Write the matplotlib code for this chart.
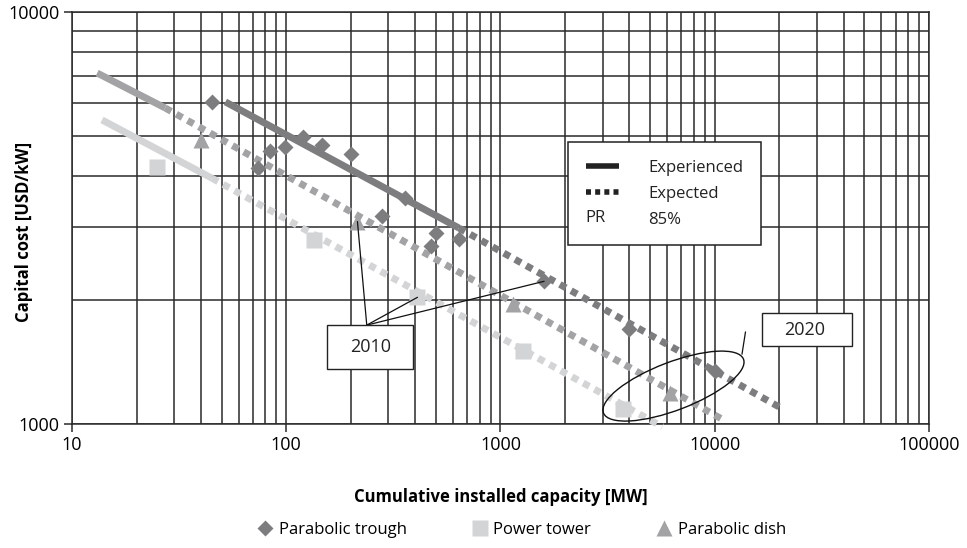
import matplotlib
matplotlib.use("Agg")
import matplotlib.pyplot as plt
from matplotlib.lines import Line2D
from matplotlib.patches import Ellipse, Rectangle
from matplotlib.legend_handler import HandlerBase
from matplotlib.text import Text
from matplotlib.transforms import ScaledTranslation
from matplotlib.ticker import FuncFormatter, NullFormatter

plt.rcParams['font.family'] = ['Open Sans', 'DejaVu Sans']

# observed points (MW, USD/kW)
trough_x = [45, 74, 84, 99, 120, 147, 200, 280, 360, 475, 500, 640, 1600, 4000, 10000]
trough_y = [6050, 4180, 4600, 4700, 4970, 4750, 4520, 3200, 3540, 2700, 2900, 2810, 2220, 1700, 1345]
tower_x = [25, 135, 410, 1270, 3750]
tower_y = [4200, 2800, 2030, 1500, 1090]
dish_x = [40, 215, 1150, 6200]
dish_y = [4900, 3100, 1960, 1190]

# experience curves: solid = experienced, dotted = expected
trough_exp_x = [52, 640]
trough_exp_y = [6050, 2990]
trough_fut_x = [640, 20000]
trough_fut_y = [2990, 1100]
tower_exp_x = [13.8, 45]
tower_exp_y = [5470, 3950]
tower_fut_x = [45, 5700]
tower_fut_y = [3950, 985]
dish_exp_x = [13.1, 27.2]
dish_exp_y = [7110, 5850]
dish_fut_x = [27.2, 11000]
dish_fut_y = [5850, 1023]

# 2010 points the callout refers to
y2010_x = [215, 410, 1600]
y2010_y = [3100, 2030, 2220]

c_trough = '#7d7d80'
c_dish = '#a3a3a6'
c_tower = '#d3d4d6'
grid_c = '#2a2a2a'
dots = (0, (1, 0.85))

fig = plt.figure(figsize=(9.67, 5.48), dpi=100)
ax = fig.add_axes([0.0745, 0.2263, 0.886, 0.7518])
ax.set_xscale('log')
ax.set_yscale('log')
ax.set_xlim(10, 100000)
ax.set_ylim(1000, 10000)

ax.grid(True, which='both', color=grid_c, lw=1.1)
ax.set_axisbelow(True)
for s in ax.spines.values():
    s.set_color(grid_c)
    s.set_linewidth(1.1)
ax.tick_params(which='minor', length=0)
ax.tick_params(which='major', length=6, width=1.1, color=grid_c, labelsize=13, pad=3)
fmt = FuncFormatter(lambda v, p: f'{v:.0f}')
ax.xaxis.set_major_formatter(fmt)
ax.yaxis.set_major_formatter(fmt)
ax.xaxis.set_minor_formatter(NullFormatter())
ax.yaxis.set_minor_formatter(NullFormatter())

# lines
ax.plot(dish_exp_x, dish_exp_y, color=c_dish, lw=5, solid_capstyle='butt', zorder=3)
ax.plot(dish_fut_x, dish_fut_y, color=c_dish, lw=5, ls=dots, zorder=3)
ax.plot(tower_exp_x, tower_exp_y, color=c_tower, lw=5, solid_capstyle='butt', zorder=3)
ax.plot(tower_fut_x, tower_fut_y, color=c_tower, lw=5, ls=dots, zorder=3, clip_on=False)
ax.plot(trough_exp_x, trough_exp_y, color=c_trough, lw=5, solid_capstyle='butt', zorder=3)
ax.plot(trough_fut_x, trough_fut_y, color=c_trough, lw=5, ls=dots, zorder=3)

# markers
ax.plot(trough_x, trough_y, 'D', color=c_trough, ms=8, mec='none', zorder=4)
ax.plot(tower_x, tower_y, 's', color=c_tower, ms=11, mec='none', zorder=4)
ax.plot(dish_x, dish_y, '^', color=c_dish, ms=12, mec='none', zorder=4)

ax.set_xlabel('Cumulative installed capacity [MW]', fontsize=12, fontweight='bold', labelpad=24)
ax.set_ylabel('Capital cost [USD/kW]', fontsize=12, fontweight='bold')
ax.yaxis.set_label_coords(-0.045, 0.466)


# inner legend with a text-only "PR" row
class TextHandler(HandlerBase):
    def create_artists(self, legend, orig_handle, xdescent, ydescent, width, height, fontsize, trans):
        t = Text(-xdescent, height / 2 - ydescent, orig_handle, va='center', ha='left',
                 fontsize=fontsize, color='#222222', transform=trans)
        return [t]


h_exp = Line2D([], [], color='#222222', lw=4, solid_capstyle='butt')
h_fut = Line2D([], [], color='#222222', lw=4, ls=(0, (0.9, 0.75)))
leg = ax.legend([h_exp, h_fut, 'PR'], ['Experienced', 'Expected', '85%'],
                handler_map={str: TextHandler()}, loc='upper left',
                bbox_to_anchor=(0.579, 0.684), fontsize=12, frameon=True, fancybox=False,
                edgecolor='#222222', framealpha=1, handlelength=2.0, handletextpad=1.75,
                labelspacing=0.6, borderpad=1.05, borderaxespad=0)
leg.get_frame().set_linewidth(1.1)
for t in leg.get_texts():
    t.set_color('#222222')

# 2010 callout
for px, py in zip(y2010_x, y2010_y):
    ax.annotate('', xy=(px, py), xycoords='data', xytext=(0.344, 0.240), textcoords='axes fraction',
                arrowprops=dict(arrowstyle='-', lw=0.9, color='#111111', shrinkA=0, shrinkB=0), zorder=5)
ax.add_patch(Rectangle((0.2975, 0.1335), 0.1005, 0.1065, transform=ax.transAxes,
                       facecolor='white', edgecolor='#222222', lw=1.0, zorder=6))
ax.text(0.348, 0.187, '2010', transform=ax.transAxes, ha='center', va='center', fontsize=13,
        color='#222222', zorder=7)

# 2020 callout
ax.add_patch(Rectangle((0.805, 0.189), 0.105, 0.080, transform=ax.transAxes,
                       facecolor='white', edgecolor='#222222', lw=1.0, zorder=6))
ax.text(0.855, 0.229, '2020', transform=ax.transAxes, ha='center', va='center', fontsize=13,
        color='#222222', zorder=7)
ax.plot([0.786, 0.782], [0.223, 0.170], transform=ax.transAxes, color='#111111', lw=0.9, zorder=5)
ell_tr = fig.dpi_scale_trans + ScaledTranslation(0.702, 0.092, ax.transAxes)
ax.add_patch(Ellipse((0, 0), 1.50, 0.48, angle=21, transform=ell_tr, fill=False,
                     edgecolor='#111111', lw=1.0, zorder=5))

# bottom legend
handles = [Line2D([], [], ls='none', marker='D', color=c_trough, ms=8, mec='none'),
           Line2D([], [], ls='none', marker='s', color=c_tower, ms=12, mec='none'),
           Line2D([], [], ls='none', marker='^', color=c_dish, ms=12, mec='none')]
fig.legend(handles, ['Parabolic trough', 'Power tower', 'Parabolic dish'], loc='center',
           bbox_to_anchor=(0.54, 0.033), ncol=3, frameon=False, fontsize=12,
           handlelength=0.8, handletextpad=0.4, columnspacing=4.0)

fig.savefig('out.png', dpi=100)
